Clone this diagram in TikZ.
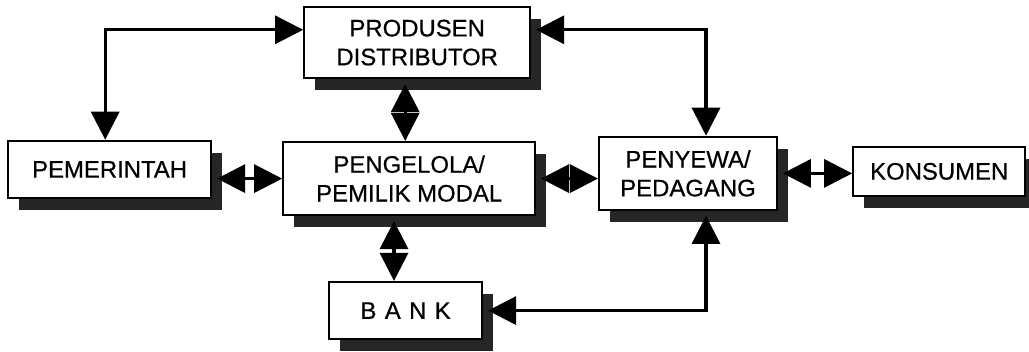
\documentclass[tikz,border=0pt]{standalone}
\usepackage{fontspec}
\setmainfont{Liberation Sans}[FakeBold=0.6]
\usetikzlibrary{arrows.meta,shadows}

\tikzset{
  kasten/.style={draw, line width=1.5pt, fill=white, inner sep=0pt, align=center,
    font=\fontsize{17}{20.5}\selectfont,
    drop shadow={shadow xshift=0.28cm, shadow yshift=-0.3cm, fill=black!85, opacity=1}},
  pfeil/.style={line width=2.2pt,
    {Triangle[length=0.7cm,width=0.7cm]}-{Triangle[length=0.7cm,width=0.7cm]}},
  abschatten/.style={shorten <=0.12cm}
}

\begin{document}
\begin{tikzpicture}
\useasboundingbox (0,0) rectangle (25.725,8.775);

\node[kasten, minimum width=5.65cm, minimum height=1.78cm] (produsen) at (10.43,7.71) {PRODUSEN\\DISTRIBUTOR};
\node[kasten, minimum width=5.08cm, minimum height=1.43cm] (pemerintah) at (2.74,4.54) {PEMERINTAH};
\node[kasten, minimum width=6.3cm, minimum height=1.83cm] (pengelola) at (10.23,4.31) {PENGELOLA/\\PEMILIK MODAL};
\node[kasten, minimum width=4.45cm, minimum height=1.83cm] (penyewa) at (17.2,4.44) {PENYEWA/\\PEDAGANG};
\node[kasten, minimum width=4.3cm, minimum height=1.23cm] (konsumen) at (23.48,4.49) {KONSUMEN};
\node[kasten, minimum width=3.83cm, minimum height=1.43cm] (bank) at (10.14,1.01) {B\hspace{0.35em}A\hspace{0.35em}N\hspace{0.35em}K};

\coordinate (knickl) at (2.63,8.03);
\coordinate (knickr) at (17.65,8.03);
\coordinate (mitte) at (10.13,0);
\coordinate (unten) at (9.85,0);

% Verbindungen
\draw[pfeil] (pemerintah.north -| knickl) |- (produsen.west |- knickl);
\draw[pfeil, abschatten] (produsen.east |- knickr) -| (penyewa.north -| knickr);
\draw[pfeil, abschatten] (produsen.south -| mitte) -- (pengelola.north -| mitte);
\draw[pfeil, abschatten] (pemerintah.east |- pengelola.west) -- (pengelola.west);
\draw[pfeil, abschatten] (pengelola.east) -- (pengelola.east -| penyewa.west);
\draw[pfeil, abschatten] (penyewa.east) -- (penyewa.east -| konsumen.west);
\draw[pfeil, abschatten] (pengelola.south -| unten) -- (bank.north -| unten);
\draw[pfeil, abschatten, shorten >=0.12cm] (bank.east) -| (penyewa.south -| knickr);
\end{tikzpicture}
\end{document}
